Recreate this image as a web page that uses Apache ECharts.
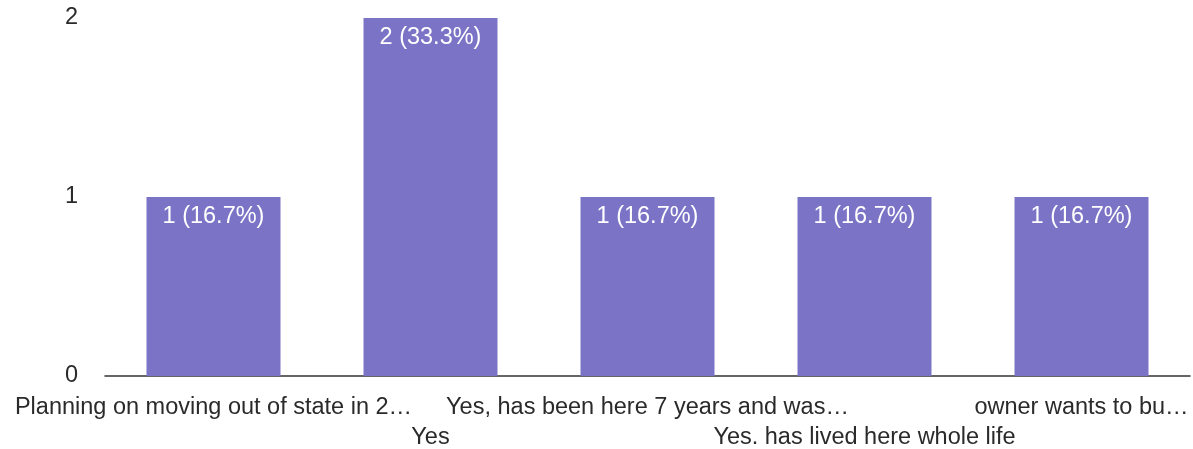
<!DOCTYPE html>
<html>
<head>
<meta charset="utf-8">
<script src="https://cdn.jsdelivr.net/npm/echarts@6/dist/echarts.min.js"></script>
<style>
html,body{margin:0;padding:0;background:#fff;}
#chart{width:1193px;height:449px;}
</style>
</head>
<body>
<div id="chart"></div>
<script>
const categories = [
  "Planning on moving out of state in 2…",
  "Yes",
  "Yes, has been here 7 years and was…",
  "Yes. has lived here whole life",
  "owner wants to bu…"
];
const counts = [1, 2, 1, 1, 1];
const percents = ["16.7%", "33.3%", "16.7%", "16.7%", "16.7%"];
const yTicks = [0, 1, 2];

const chart = echarts.init(document.getElementById('chart'));
chart.setOption({
  animation: false,
  textStyle: { fontFamily: 'Liberation Sans, Arial, sans-serif' },
  grid: { left: 105, right: 3, top: 18, bottom: 73, containLabel: false, outerBoundsMode: 'none' },
  xAxis: {
    type: 'category',
    data: categories,
    axisLine: { lineStyle: { color: '#333', width: 1.5 } },
    axisTick: { show: false },
    axisLabel: {
      interval: 0,
      color: '#2a2a2a',
      fontSize: 23.5,
      margin: 17,
      lineHeight: 30,
      formatter: function (v, i) { return i % 2 === 1 ? '\n' + v : v; }
    }
  },
  yAxis: {
    type: 'value',
    min: yTicks[0],
    max: yTicks[yTicks.length - 1],
    interval: 1,
    splitLine: { show: false },
    axisLine: { show: false },
    axisTick: { show: false },
    axisLabel: { color: '#2a2a2a', fontSize: 23.5, margin: 27, padding: [5, 0, 0, 0] }
  },
  series: [{
    type: 'bar',
    data: counts,
    barWidth: 134,
    itemStyle: { color: '#7b74c6' },
    label: {
      show: true,
      position: 'insideTop',
      distance: 8,
      color: '#fff',
      fontSize: 23.5,
      formatter: function (p) { return p.value + ' (' + percents[p.dataIndex] + ')'; }
    }
  }]
});
</script>
</body>
</html>
